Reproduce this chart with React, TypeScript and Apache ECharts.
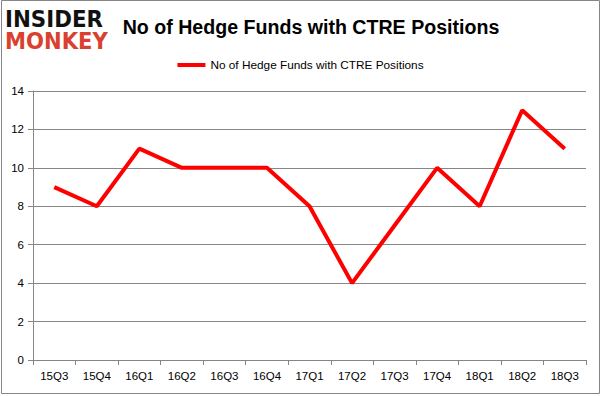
import React, { useEffect, useRef } from "react";
import * as echarts from "echarts";

const categories = ["15Q3", "15Q4", "16Q1", "16Q2", "16Q3", "16Q4", "17Q1", "17Q2", "17Q3", "17Q4", "18Q1", "18Q2", "18Q3"];
const hedgeFunds = [9, 8, 11, 10, 10, 10, 8, 4, 7, 10, 8, 13, 11];
const seriesName = "No of Hedge Funds with CTRE Positions";
const titleText = "No of Hedge Funds with CTRE Positions";

export default function App() {
  const ref = useRef<HTMLDivElement>(null);
  useEffect(() => {
    const chart = echarts.init(ref.current!, null, { renderer: "svg" });
    const gray = "#868686";
    chart.setOption({
      animation: false,
      backgroundColor: "#ffffff",
      title: {
        text: titleText,
        left: 306,
        textAlign: "center",
        top: 12,
        textStyle: { fontFamily: "Liberation Sans", fontWeight: "bold", fontSize: 19.6, color: "#000" },
      },
      legend: {
        top: 54,
        left: "center",
        itemWidth: 28,
        itemHeight: 4,
        itemGap: 6,
        icon: "rect",
        textStyle: { fontFamily: "Liberation Sans", fontSize: 11.8, color: "#000" },
        data: [seriesName],
      },
      grid: { left: 33, right: 15, top: 91, bottom: 36 },
      xAxis: {
        type: "category",
        data: categories,
        boundaryGap: true,
        axisLine: { lineStyle: { color: gray } },
        axisTick: { show: true, length: 5, lineStyle: { color: gray } },
        axisLabel: { color: "#000", fontFamily: "Liberation Sans", fontSize: 11.5, margin: 10 },
      },
      yAxis: {
        type: "value",
        min: 0,
        max: 14,
        interval: 2,
        axisLine: { show: true, lineStyle: { color: gray } },
        axisTick: { show: true, length: 5, lineStyle: { color: gray } },
        axisLabel: { color: "#000", fontFamily: "Liberation Sans", fontSize: 11.5, margin: 9 },
        splitLine: { lineStyle: { color: gray, width: 1 } },
      },
      series: [
        {
          name: seriesName,
          type: "line",
          data: hedgeFunds,
          symbol: "none",
          lineStyle: { color: "#ff0000", width: 4 },
          itemStyle: { color: "#ff0000" },
        },
      ],
      graphic: [
        {
          type: "rect",
          shape: { x: 1.5, y: 0.5, width: 598, height: 393 },
          style: { fill: "none", stroke: gray, lineWidth: 1 },
          silent: true,
        },
        {
          type: "text",
          x: 5,
          y: 7,
          scaleX: 0.93,
          style: { text: "INSIDER", fontFamily: "DejaVu Sans", fontWeight: "bold", fontSize: 23, fill: "#111" },
        },
        {
          type: "text",
          x: 5,
          y: 29,
          scaleX: 0.92,
          style: { text: "MONKEY", fontFamily: "DejaVu Sans", fontWeight: "bold", fontSize: 23, fill: "#d9412e" },
        },
      ],
    });
    return () => chart.dispose();
  }, []);
  return <div ref={ref} style={{ position: "absolute", left: 0, top: 0, width: 601, height: 396 }} />;
}
